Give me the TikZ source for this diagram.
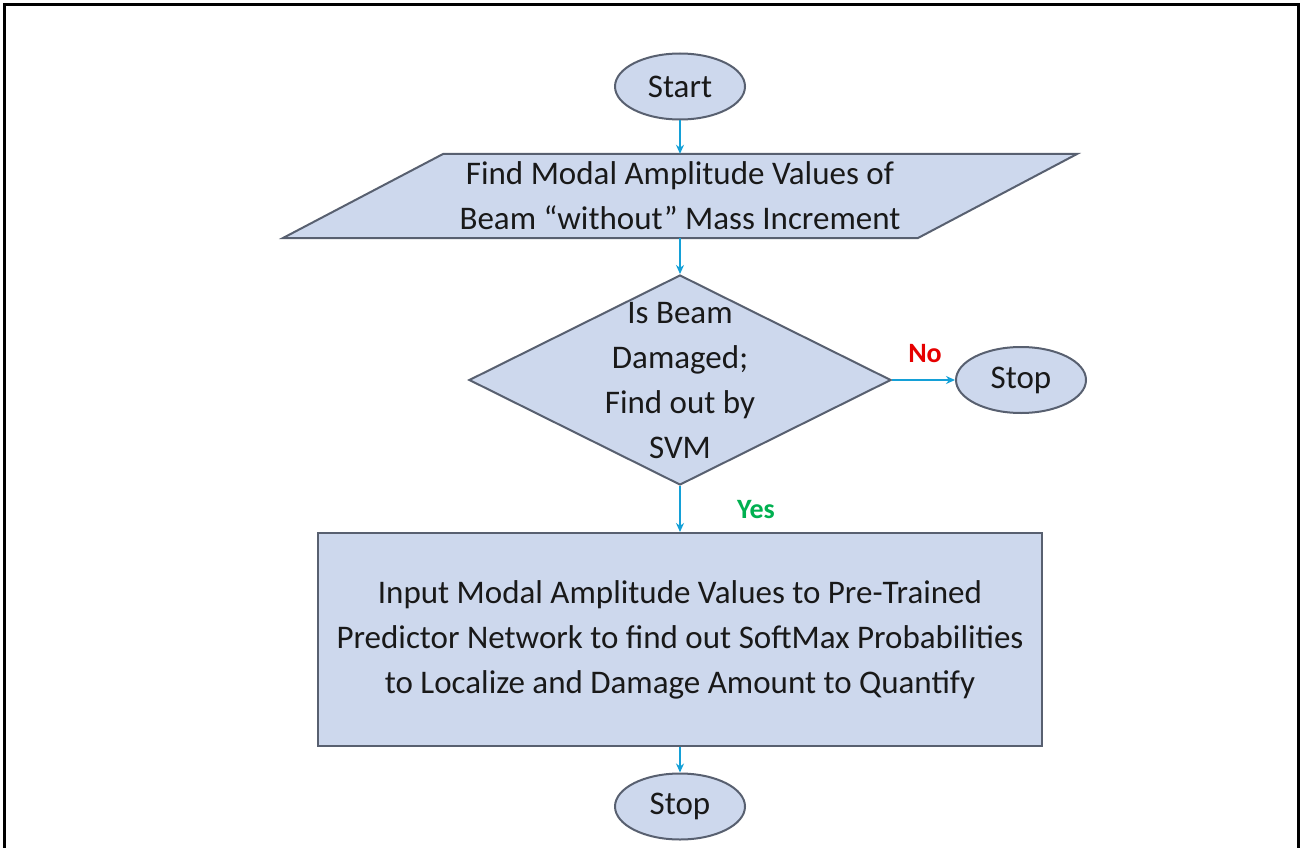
\documentclass[tikz,border=0pt]{standalone}
\usepackage{fontspec}
\setmainfont{Carlito}
\usetikzlibrary{shapes.geometric,arrows.meta}
\definecolor{boxfill}{RGB}{205,216,237}
\definecolor{boxline}{RGB}{88,96,112}
\definecolor{arrowc}{RGB}{20,160,215}
\definecolor{nored}{RGB}{230,0,0}
\definecolor{yesgreen}{RGB}{0,176,80}
\definecolor{txt}{RGB}{25,25,25}
\tikzset{
  shapebox/.style={draw=boxline,fill=boxfill,line width=2pt},
  term/.style={shapebox,ellipse,minimum width=130pt,minimum height=66pt,inner sep=0pt,text=txt,font=\fontsize{33}{45}\selectfont},
  label/.style={text=txt,align=center,font=\fontsize{33}{45}\selectfont},
  flow/.style={draw=arrowc,line width=2.2pt,-{Stealth[length=9pt,width=8pt]}},
  ans/.style={font=\bfseries\fontsize{28}{30}\selectfont}
}
\begin{document}
\begin{tikzpicture}[x=1pt,y=-1pt]
\useasboundingbox (0,0) rectangle (1301,848);
\fill[white] (0,0) rectangle (1301,848);
% frame
\draw[line width=3pt,black] (4,852) -- (4,5) -- (1298,5) -- (1298,852);
% start
\node[term] (start) at (680,86.5) {Start};
% parallelogram
\coordinate (pbl) at (283,238);
\coordinate (ptl) at (443,154);
\coordinate (ptr) at (1077,154);
\coordinate (pbr) at (918,238);
\draw[shapebox,line join=miter] (pbl) -- (ptl) -- (ptr) -- (pbr) -- cycle;
\node[label,draw=none,minimum width=634pt,minimum height=84pt,inner sep=0pt] (para) at (680,196) {Find Modal Amplitude Values of\\Beam “without” Mass Increment};
% diamond
\node[shapebox,diamond,minimum width=422pt,minimum height=210pt,inner sep=0pt] (dec) at (680,380) {};
\node[label] (dectext) at (680,381) {Is Beam\\Damaged;\\Find out by\\SVM};
% stop right
\node[term] (stop1) at (1021,380) {Stop};
% rectangle
\node[shapebox,rectangle,minimum width=724pt,minimum height=213pt,inner sep=0pt,label] (proc) at (680,639.5) {Input Modal Amplitude Values to Pre-Trained\\Predictor Network to find out SoftMax Probabilities\\to Localize and Damage Amount to Quantify};
% stop bottom
\node[term] (stop2) at (680,806.5) {Stop};
% connectors
\draw[flow] (start.south) -- (para.north);
\draw[flow] (para.south) -- (dec.north);
\draw[flow] (dec.east) -- (stop1.west);
\draw[flow] (dec.south) -- (proc.north);
\draw[flow] (proc.south) -- (stop2.north);
% answers
\node[ans,text=nored] (no) at (925,354) {No};
\node[ans,text=yesgreen] (yes) at (756,510) {Yes};
\end{tikzpicture}
\end{document}
